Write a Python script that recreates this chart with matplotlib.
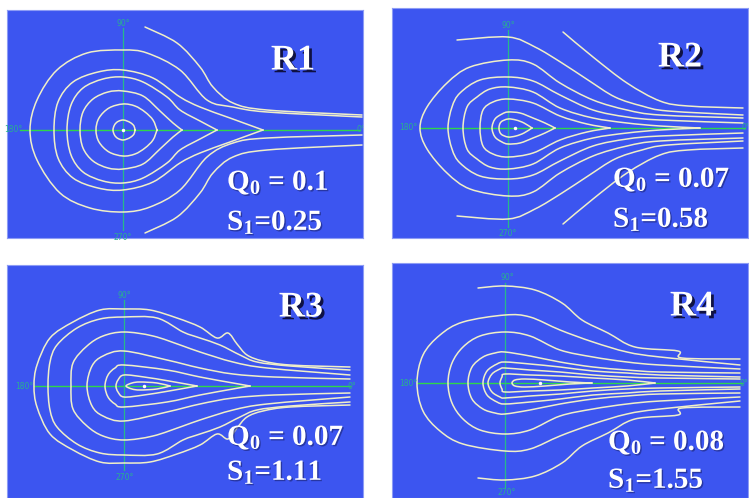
import matplotlib
matplotlib.use("Agg")
import matplotlib.pyplot as plt
import matplotlib.patheffects as pe
from matplotlib.path import Path
from matplotlib.patches import PathPatch

W, H = 749, 498

plt.rcParams['mathtext.fontset'] = 'custom'
plt.rcParams['mathtext.rm'] = 'Liberation Serif:bold'
plt.rcParams['mathtext.it'] = 'Liberation Serif:bold'
plt.rcParams['mathtext.bf'] = 'Liberation Serif:bold'

# upper branches of each isoline, (x, y) measured from the axis crossing;
# the lower branch is the mirror image unless given separately
R1_LINES = [
    ([-10, -9, -7, -4, 0, 4, 8, 11, 12], [0, 4, 7, 9, 10, 9, 7, 4, 0]),
    ([-27, -24, -14, 0, 12, 22, 30, 34], [0, 12, 22, 26, 24, 18, 10, 0]),
    ([-43, -40, -30, -15, 0, 20, 37, 50, 59], [0, 18, 31, 38, 39, 34, 19, 7, 0]),
    ([-56, -52, -40, -20, 0, 20, 44, 57, 77, 94], [0, 25, 42, 51, 53, 48, 33, 20, 9, 0]),
    ([-69, -65, -50, -25, 0, 30, 57, 77, 107, 140], [0, 28, 48, 58, 60, 52, 33, 23, 12, 0]),
    ([-93, -86, -66, -36, 0, 24, 57, 84, 110, 144, 239], [0, 30, 60, 77, 80, 77, 60, 30, 23, 18, 13]),
    ([22, 54, 77, 90, 110, 144, 239], [103, 87, 63, 43, 27, 20, 15]),
]
R1_LOWER = {
    5: ([-93, -86, -63, -33, 0, 27, 57, 84, 110, 144, 239], [0, -30, -63, -78, -82, -77, -60, -27, -13, -8, -5]),
}

R2_LINES = [
    ([-9, -7, 0, 8, 16, 24], [0, 6, 9, 8, 5, 0]),
    ([-16, -13, -6, 0, 12, 25, 37, 47], [0, 9, 14, 16, 15, 10, 5, 0]),
    ([-28, -25, -15, 0, 25, 52, 79, 102], [0, 18, 26, 29, 25, 12, 4, 0]),
    ([-45, -41, -31, -18, 0, 25, 52, 85, 119, 152, 192], [0, 21, 31, 39, 41, 36, 20, 10, 5, 2, 0]),
    ([-60, -56, -48, -28, 0, 25, 52, 85, 119, 152, 235], [0, 21, 35, 48, 51, 47, 33, 18, 11, 8, 5]),
    ([-88, -81, -61, -38, 0, 25, 52, 85, 119, 152, 235], [0, 21, 45, 61, 68, 64, 45, 28, 18, 13, 10]),
    ([-51, 0, 27, 54, 80, 107, 134, 160, 235], [88, 91, 81, 65, 48, 31, 22, 17, 13]),
    ([55, 85, 119, 152, 180, 235], [96, 71, 45, 27, 22, 20]),
]
R2_LOWER = {}

R3_LINES = [
    ([2, 8, 16, 33, 46], [0, 3, 4, 3, 0]),
    ([-8, -6, 0, 20, 45, 73], [0, 6, 11, 9, 5, 0]),
    ([-19, -16, -9, 0, 43, 76, 109, 126], [0, 11, 18, 21, 16, 9, 3, 0]),
    ([-37, -32, -21, 0, 43, 76, 109, 150, 226], [0, 20, 30, 35, 26, 18, 12, 9, 7]),
    ([-53, -51, -37, -21, 0, 29, 59, 76, 109, 143, 226], [0, 23, 40, 50, 54, 50, 40, 34, 24, 18, 11]),
    ([-76, -74, -67, -47, -24, 0, 33, 59, 76, 96, 116, 133, 166, 226],
     [0, 24, 41, 58, 67, 69, 68, 54, 48, 41, 31, 24, 20, 16]),
    ([-90, -87, -74, -51, -24, 0, 26, 53, 76, 93, 104, 113, 123, 139, 166, 226],
     [0, 21, 48, 64, 76, 77, 76, 68, 59, 48, 53, 42, 31, 25, 21, 19]),
]
R3_LOWER = {}

R4_LINES = [
    ([7, 10, 20, 40, 65, 87], [0, 3, 4, 3, 1, 0]),
    ([-5, -3, 0, 25, 55, 88, 122, 150], [0, 6, 9, 8, 7, 5, 3, 0]),
    ([-17, -13, -5, 0, 25, 55, 88, 122, 155, 235], [0, 9, 14, 15, 13, 11, 8, 6, 5, 4]),
    ([-22, -18, -8, 0, 25, 55, 88, 122, 155, 235], [0, 12, 19, 21, 19, 16, 12, 10, 8, 6]),
    ([-37, -33, -22, -10, 0, 25, 55, 88, 122, 155, 235], [0, 16, 26, 30, 31, 27, 21, 16, 13, 11, 10]),
    ([-57, -53, -42, -25, 0, 25, 55, 88, 122, 155, 235], [0, 20, 36, 47, 51, 47, 33, 26, 21, 18, 14]),
    ([-88, -82, -65, -42, 0, 25, 55, 88, 122, 155, 235], [0, 28, 48, 61, 68, 66, 53, 41, 31, 26, 18]),
    ([-27, 0, 30, 57, 77, 103, 130, 173, 177, 235], [95, 97, 93, 80, 63, 50, 36, 32, 25, 24]),
]
R4_LOWER = {}

NAMES = ["R1", "R2", "R3", "R4"]
Q0 = ["0.1", "0.07", "0.07", "0.08"]
S1 = ["0.25", "0.58", "1.11", "1.55"]
SOURCE_X = [0, 7, 20, 35]

# panel box (x0, y0, x1, y1) and axis crossing (cx, cy) in pixels from top-left
LAYOUT = [
    dict(box=(7, 10, 363, 238), c=(123, 130), h=(-103, 237), v=(102, -100),
         lab90=(0, 107), lab270=(0, -107), lab180=-110, lab0=238,
         title=(293, 61), q=(227, 190), s=(227, 230)),
    dict(box=(392, 8, 748, 238), c=(508, 128), h=(-88, 237), v=(98, -99),
         lab90=(0, 103), lab270=(0, -105), lab180=-100, lab0=238,
         title=(680, 58), q=(613, 187), s=(613, 227)),
    dict(box=(7, 265, 363, 498), c=(124, 386), h=(-90, 226), v=(86, -84),
         lab90=(0, 91), lab270=(1, -91), lab180=-100, lab0=228,
         title=(301, 308), q=(227, 445), s=(227, 480)),
    dict(box=(392, 263, 748, 498), c=(505, 383), h=(-88, 237), v=(100, -105),
         lab90=(2, 105), lab270=(2, -109), lab180=-97, lab0=239,
         title=(692, 307), q=(608, 450), s=(608, 488)),
]

BLUE = '#3c55f0'
LINE = '#f0efc8'
HGREEN = '#2fd64a'
VGREEN = '#27b98a'
LABEL = '#29b090'


def spline_path(xs, ys):
    # Catmull-Rom curve through the points, written as cubic Bezier segments
    pts = list(zip(xs, ys))
    n = len(pts)
    verts = [pts[0]]
    codes = [Path.MOVETO]
    for i in range(n - 1):
        p0 = pts[i - 1] if i > 0 else pts[i]
        p1 = pts[i]
        p2 = pts[i + 1]
        p3 = pts[i + 2] if i + 2 < n else pts[i + 1]
        c1 = (p1[0] + (p2[0] - p0[0]) / 6, p1[1] + (p2[1] - p0[1]) / 6)
        c2 = (p2[0] - (p3[0] - p1[0]) / 6, p2[1] - (p3[1] - p1[1]) / 6)
        verts += [c1, c2, p2]
        codes += [Path.CURVE4] * 3
    return Path(verts, codes)


def add_curve(ax, xs, ys):
    ax.add_patch(PathPatch(spline_path(xs, ys), fill=False, edgecolor=LINE, lw=1.1,
                           joinstyle='round', capstyle='round', zorder=3))


def draw_line(ax, xs, ys, lower=None):
    if lower is None:
        lx, ly = xs, [-v for v in ys]
    else:
        lx, ly = lower
    if ys[0] == 0 and ly[0] == 0:
        add_curve(ax, lx[::-1] + xs[1:], ly[::-1] + ys[1:])
    else:
        add_curve(ax, xs, ys)
        add_curve(ax, lx, ly)


fig = plt.figure(figsize=(W / 100, H / 100), dpi=100)

all_lines = [R1_LINES, R2_LINES, R3_LINES, R4_LINES]
all_lower = [R1_LOWER, R2_LOWER, R3_LOWER, R4_LOWER]

shadow_big = [pe.SimplePatchShadow(offset=(2, -2), shadow_rgbFace='#0a0a30', alpha=0.9), pe.Normal()]
shadow_small = [pe.SimplePatchShadow(offset=(1, -1), shadow_rgbFace='#1a2270', alpha=0.6), pe.Normal()]

for i, lay in enumerate(LAYOUT):
    x0, y0, x1, y1 = lay['box']
    cx, cy = lay['c']
    ax = fig.add_axes([x0 / W, 1 - y1 / H, (x1 - x0) / W, (y1 - y0) / H])
    ax.set_xlim(x0 - cx, x1 - cx)
    ax.set_ylim(cy - y1, cy - y0)
    ax.set_facecolor(BLUE)
    ax.set_xticks([])
    ax.set_yticks([])
    for sp in ax.spines.values():
        sp.set_color('#8d9cf5')
        sp.set_linewidth(0.8)

    # polar reference axes
    ax.plot(lay['h'], [0, 0], color=HGREEN, lw=1.0, zorder=2)
    ax.plot([0, 0], lay['v'], color=VGREEN, lw=0.9, zorder=2)
    lab = dict(color=LABEL, fontsize=5.5, family='DejaVu Sans', ha='center', va='center', zorder=4)
    ax.text(lay['lab90'][0], lay['lab90'][1], "90°", **lab)
    ax.text(lay['lab270'][0], lay['lab270'][1], "270°", **lab)
    ax.text(lay['lab180'], 0, "180°", **lab)
    ax.text(lay['lab0'], 0, "0°", clip_on=True, **lab)

    lower = all_lower[i]
    for k, (xs, ys) in enumerate(all_lines[i]):
        draw_line(ax, xs, ys, lower.get(k))
    ax.plot([SOURCE_X[i]], [0], 'o', color='white', ms=1.5, zorder=4)

    tx, ty = lay['title']
    ax.text(tx - cx, cy - ty, NAMES[i], color='white', fontsize=26, fontweight='bold',
            family='Liberation Serif', ha='center', va='center', zorder=5,
            path_effects=shadow_big)
    qx, qy = lay['q']
    ax.text(qx - cx, cy - qy, r"$\mathrm{Q_0}$ = " + Q0[i], color='white', fontsize=21,
            fontweight='bold', family='Liberation Serif', ha='left', va='baseline',
            zorder=5, path_effects=shadow_small)
    sx, sy = lay['s']
    ax.text(sx - cx, cy - sy, r"$\mathrm{S_1}$=" + S1[i], color='white', fontsize=21,
            fontweight='bold', family='Liberation Serif', ha='left', va='baseline',
            zorder=5, path_effects=shadow_small)

fig.savefig("out.png", dpi=100, facecolor='white')
